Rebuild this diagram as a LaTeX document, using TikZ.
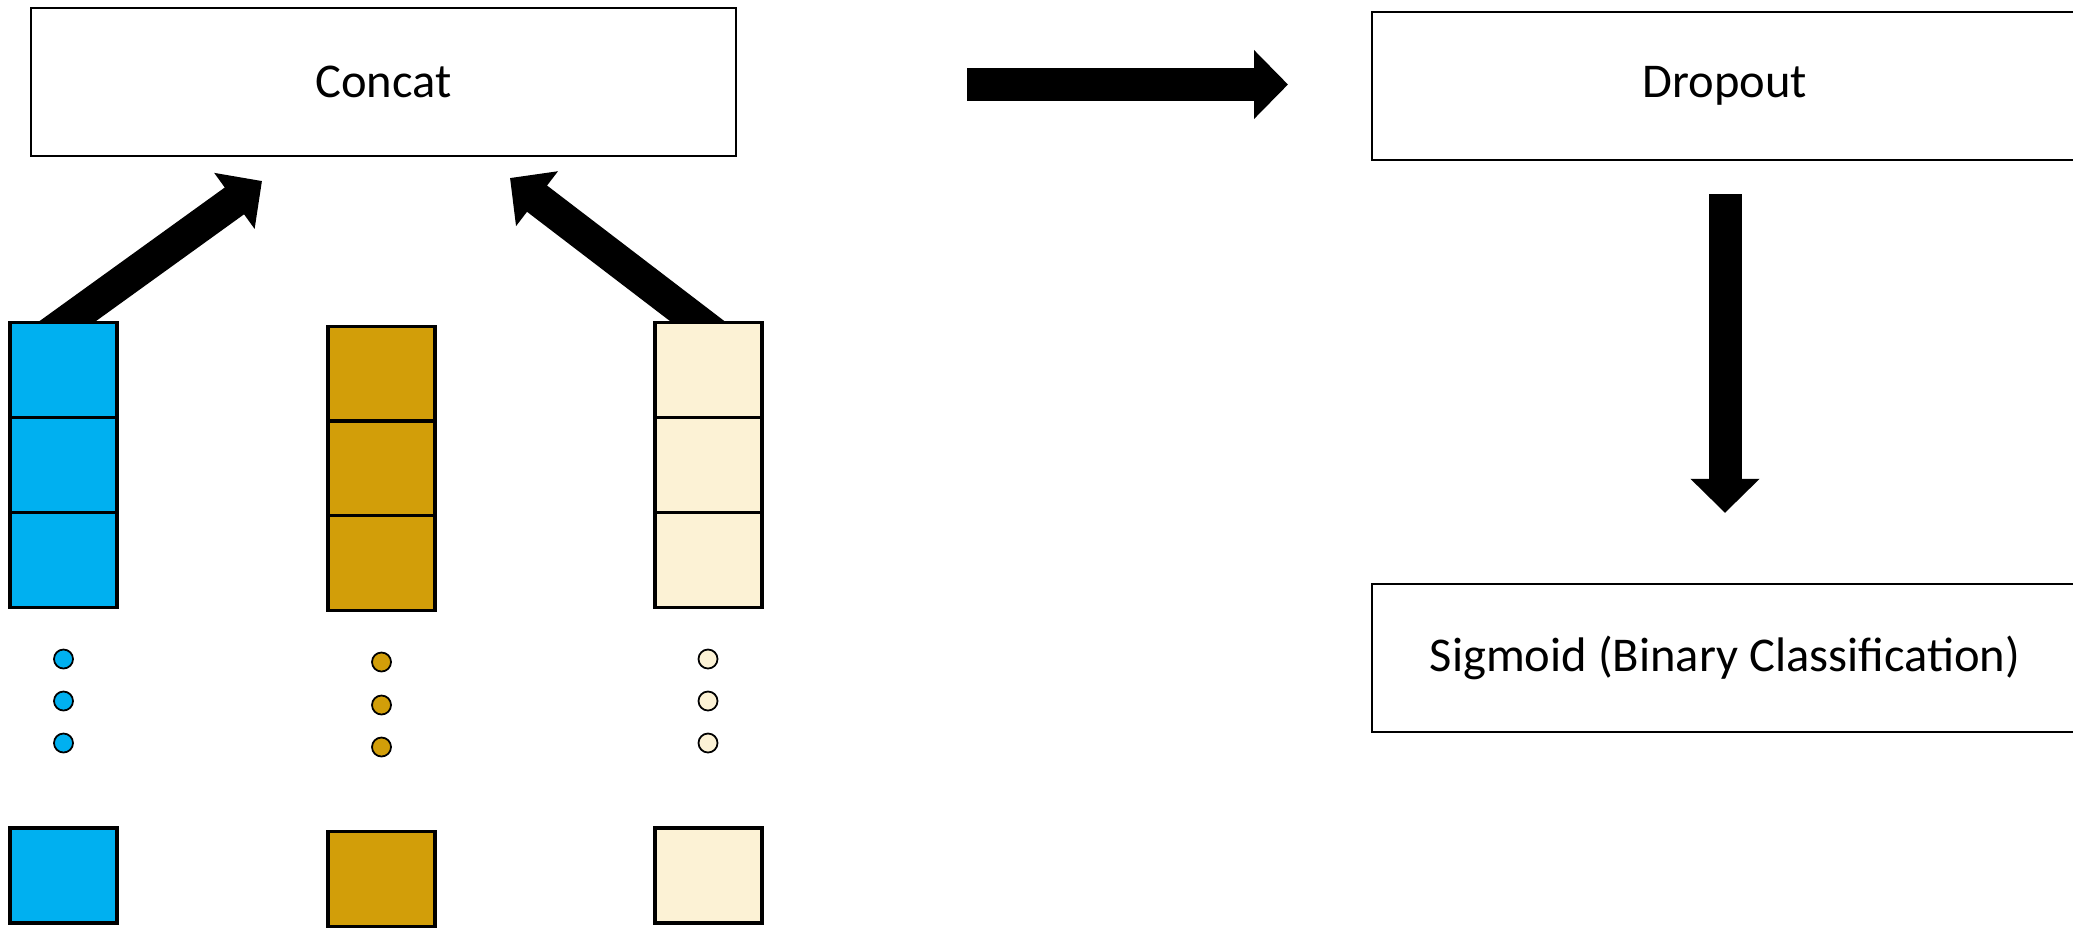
\documentclass[tikz,border=0pt]{standalone}
\usepackage{fontspec}
\setmainfont{Carlito}
\usetikzlibrary{arrows.meta,backgrounds}

\definecolor{vecblue}{HTML}{00B0F0}
\definecolor{vecgold}{HTML}{D29E09}
\definecolor{veccream}{HTML}{FCF2D5}

\tikzset{
  layerbox/.style={draw, line width=0.6pt, minimum width=7.05cm, minimum height=1.48cm,
    inner sep=0pt, font=\fontsize{13.8}{17}\selectfont},
  cell/.style={draw, line width=1.1pt, fill=#1, minimum width=1.065cm, minimum height=0.95cm, inner sep=0pt},
  vdot/.style={draw, circle, line width=0.5pt, fill=#1, minimum size=0.19cm, inner sep=0pt},
  bigarrow/.style={line width=0.33cm, -{Triangle[width=0.67cm,length=0.34cm]}},
}

\begin{document}
\begin{tikzpicture}[x=0.01cm, y=-0.01cm]
	\useasboundingbox (0,0) rectangle (2073,930);
	\clip (0,0) rectangle (2073,930);

	% layers
	\node[layerbox] (concat) at (383.5,82) {Concat};
	\node[layerbox] (dropout) at (1725,86) {Dropout};
	\node[layerbox] (sigmoid) at (1725,658) {Sigmoid (Binary Classification)};

	% first vector
	\node[cell=vecblue] (b1) at (63.5,370) {};
	\node[cell=vecblue] (b2) at (63.5,465) {};
	\node[cell=vecblue] (b3) at (63.5,560) {};
	\node[vdot=vecblue] (bd1) at (63.5,659) {};
	\node[vdot=vecblue] (bd2) at (63.5,701) {};
	\node[vdot=vecblue] (bd3) at (63.5,743) {};
	\node[cell=vecblue] (bn) at (63.5,875.5) {};

	% second vector
	\node[cell=vecgold] (g1) at (381.5,374) {};
	\node[cell=vecgold] (g2) at (381.5,468.5) {};
	\node[cell=vecgold] (g3) at (381.5,563) {};
	\node[vdot=vecgold] (gd1) at (381.5,662) {};
	\node[vdot=vecgold] (gd2) at (381.5,705) {};
	\node[vdot=vecgold] (gd3) at (381.5,747) {};
	\node[cell=vecgold] (gn) at (381.5,879) {};

	% third vector
	\node[cell=veccream] (c1) at (708.5,370) {};
	\node[cell=veccream] (c2) at (708.5,465) {};
	\node[cell=veccream] (c3) at (708.5,560) {};
	\node[vdot=veccream] (cd1) at (708,659) {};
	\node[vdot=veccream] (cd2) at (708,701) {};
	\node[vdot=veccream] (cd3) at (708,743) {};
	\node[cell=veccream] (cn) at (708.5,875.5) {};

	\coordinate (tipL) at (262,181);
	\coordinate (tipR) at (510,178);
	\coordinate (hFrom) at (967,84.5);
	\coordinate (hTo) at (1288,84.5);

	% arrows
	\begin{pgfonlayer}{background}
		\draw[bigarrow, shorten <=-0.3cm] ([xshift=0.05cm]b1.north) -- (tipL);
		\draw[bigarrow, shorten <=-0.3cm] ([xshift=-0.12cm]c1.north) -- (tipR);
	\end{pgfonlayer}
	\draw[bigarrow] (hFrom) -- (hTo);
	\draw[bigarrow, shorten <=0.33cm, shorten >=0.70cm] (dropout) -- (sigmoid);
\end{tikzpicture}
\end{document}
